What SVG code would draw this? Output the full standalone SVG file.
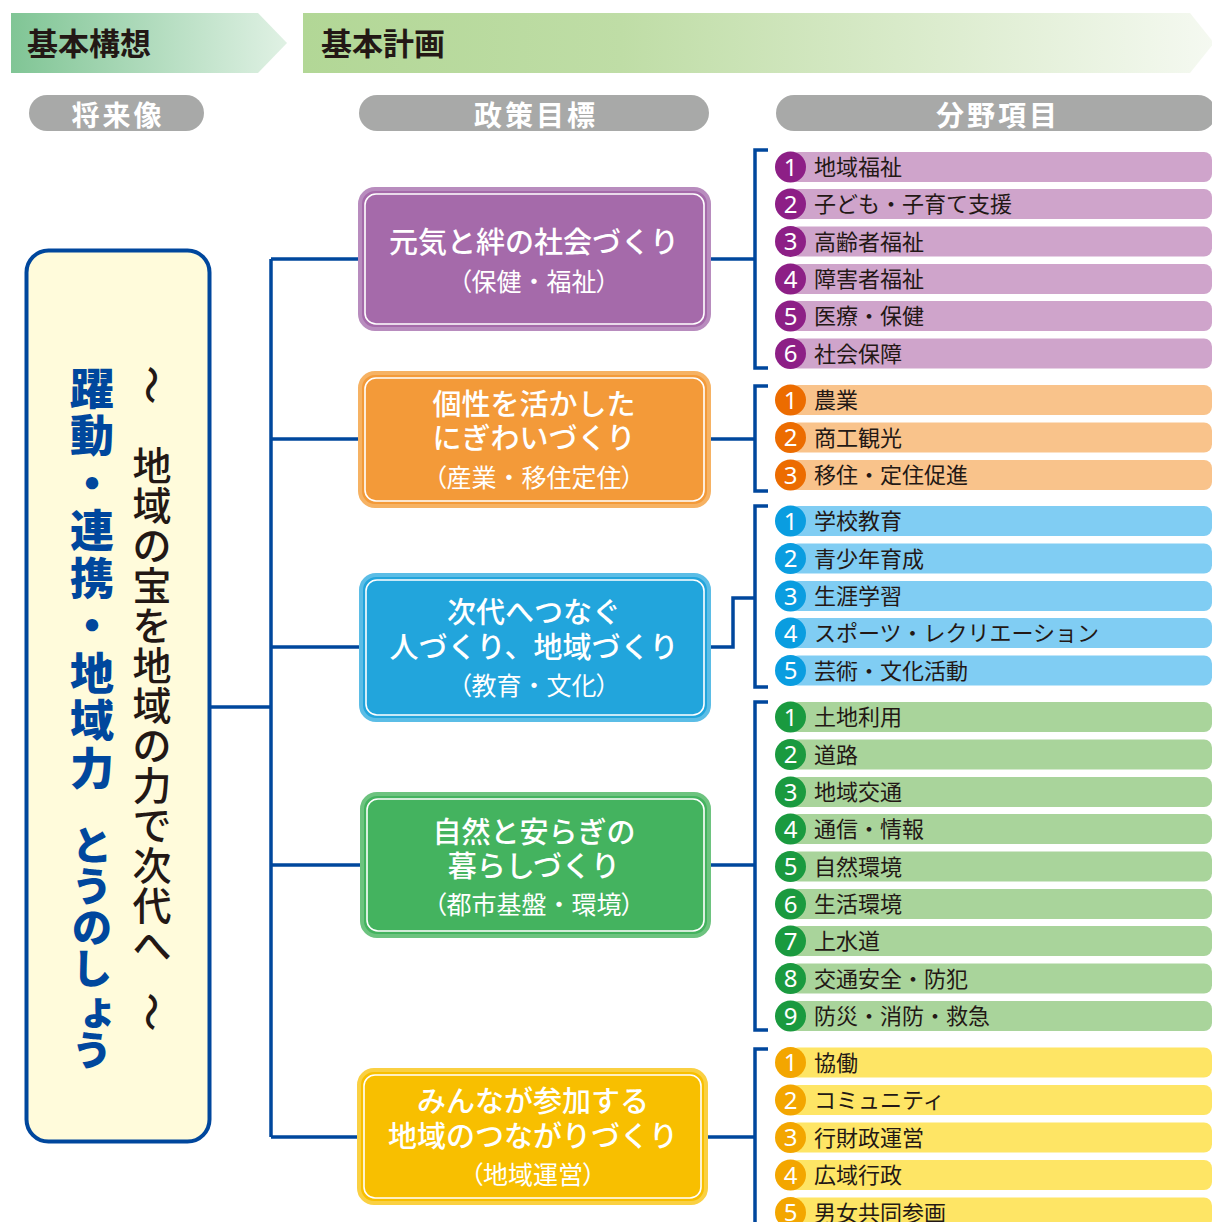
<svg xmlns="http://www.w3.org/2000/svg" width="1212" height="1222" viewBox="0 0 1212 1222">
<defs>
<linearGradient id="g1" x1="0" y1="0" x2="1" y2="0">
<stop offset="0" stop-color="#80c595"/>
<stop offset="1" stop-color="#e0f1e4"/>
</linearGradient>
<linearGradient id="g2" x1="0" y1="0" x2="1" y2="0">
<stop offset="0" stop-color="#b2d796"/>
<stop offset="0.35" stop-color="#bfdda6"/>
<stop offset="1" stop-color="#f5f9f1"/>
</linearGradient>
<style>
.hd{font-family:"Noto Sans CJK JP","Noto Sans",sans-serif;font-weight:700;font-size:31px;fill:#231815}
.pill{fill:#a8a9a8}
.pt{font-family:"Noto Sans CJK JP","Noto Sans",sans-serif;font-weight:700;font-size:28px;fill:#fff;letter-spacing:3px;text-anchor:middle}
.con{fill:none;stroke:#00479d;stroke-width:3.5}
.inner{fill:none;stroke:#fff;stroke-width:1.6}
.tt{font-family:"Noto Sans CJK JP","Noto Sans",sans-serif;font-weight:500;font-size:29px;fill:#fff;text-anchor:middle}
.st{font-family:"Noto Sans CJK JP","Noto Sans",sans-serif;font-size:25px;fill:#fff;text-anchor:middle}
.pa{font-feature-settings:"palt"}
.it{font-family:"Noto Sans CJK JP","Noto Sans",sans-serif;font-size:22px;fill:#231815}
.num{font-family:"Noto Sans","Open Sans",sans-serif;font-size:24px;fill:#fff;text-anchor:middle}
.vb{font-family:"Noto Sans CJK JP","Noto Sans",sans-serif;font-weight:900;font-size:44px;fill:#00479d;text-anchor:middle}
.vbk{font-family:"Noto Sans CJK JP","Noto Sans",sans-serif;font-weight:900;font-size:40px;fill:#00479d;text-anchor:middle}
.vk{font-family:"Noto Sans CJK JP","Noto Sans",sans-serif;font-weight:500;font-size:39px;fill:#231815;text-anchor:middle}
.pb{fill:#cfa4cb}.pc{fill:#8d1f86}
.ob{fill:#f9c38b}.oc{fill:#ec6c00}
.bb{fill:#80cdf3}.bc{fill:#0a9de0}
.gb{fill:#a9d49b}.gc{fill:#1a9a3f}
.yb{fill:#fee565}.yc{fill:#f3a600}
</style>
</defs>
<rect width="1212" height="1222" fill="#fff"/>

<g id="header-kihonkoso">
<polygon points="11,13 258,13 287,43 258,73 11,73" fill="url(#g1)"/>
<text class="hd" x="27" y="55">基本構想</text>
</g>
<g id="header-kihonkeikaku">
<polygon points="303,13 1190,13 1214,43 1190,73 303,73" fill="url(#g2)"/>
<text class="hd" x="321" y="55">基本計画</text>
</g>

<g id="label-shoraizo">
<rect class="pill" x="29" y="95" width="175" height="36" rx="18"/>
<text class="pt" x="118" y="126">将来像</text>
</g>
<g id="label-seisakumokuhyo">
<rect class="pill" x="359" y="95" width="350" height="36" rx="18"/>
<text class="pt" x="536" y="126">政策目標</text>
</g>
<g id="label-bunyakomoku">
<rect class="pill" x="776" y="95" width="440" height="36" rx="18"/>
<text class="pt" x="998" y="126">分野項目</text>
</g>

<g id="connectors">
<path class="con" d="M211,707 H271"/>
<path class="con" d="M271,259 V1137"/>
<path class="con" d="M271,259 H358"/>
<path class="con" d="M271,439 H358"/>
<path class="con" d="M271,647 H359"/>
<path class="con" d="M271,865 H360"/>
<path class="con" d="M271,1137 H357"/>
<path class="con" d="M710,259 H755"/>
<path class="con" d="M710,439 H755"/>
<path class="con" d="M711,647 H733 V598 H755"/>
<path class="con" d="M711,865 H755"/>
<path class="con" d="M708,1137 H755"/>
<path class="con" d="M768,150 H755 V368 H768"/>
<path class="con" d="M768,386 H755 V491 H768"/>
<path class="con" d="M768,506 H755 V687 H768"/>
<path class="con" d="M768,702 H755 V1030 H768"/>
<path class="con" d="M768,1049 H755 V1230"/>
</g>

<g id="vision">
<rect x="26.5" y="250.5" width="183" height="891" rx="22" fill="#fffbdb" stroke="#00479d" stroke-width="4"/>
<text class="vb"><tspan x="92" y="405">躍</tspan><tspan x="92" y="452">動</tspan><tspan x="92" y="500">・</tspan><tspan x="92" y="547">連</tspan><tspan x="92" y="595">携</tspan><tspan x="92" y="642">・</tspan><tspan x="92" y="690">地</tspan><tspan x="92" y="737">域</tspan><tspan x="92" y="785">力</tspan></text>
<text class="vbk"><tspan x="92" y="860">と</tspan><tspan x="92" y="901">う</tspan><tspan x="92" y="942">の</tspan><tspan x="92" y="983">し</tspan><tspan x="98" y="1024">ょ</tspan><tspan x="92" y="1065">う</tspan></text>
<text class="vk" transform="translate(152,385) rotate(90)" y="15">～</text>
<text class="vk"><tspan x="152" y="480">地</tspan><tspan x="152" y="520">域</tspan><tspan x="152" y="560">の</tspan><tspan x="152" y="600">宝</tspan><tspan x="152" y="640">を</tspan><tspan x="152" y="680">地</tspan><tspan x="152" y="720">域</tspan><tspan x="152" y="760">の</tspan><tspan x="152" y="800">力</tspan><tspan x="152" y="840">で</tspan><tspan x="152" y="880">次</tspan><tspan x="152" y="920">代</tspan><tspan x="152" y="960">へ</tspan></text>
<text class="vk" transform="translate(152,1012) rotate(90)" y="15">～</text>
</g>

<g id="policy-1">
<rect x="360" y="189" width="349" height="140" rx="15" fill="#a56aaa" stroke="#b88cbe" stroke-width="4"/>
<rect class="inner" x="365" y="194" width="339" height="130" rx="11"/>
<text class="tt" x="534" y="253">元気と絆の社会づくり</text>
<text class="st" x="534" y="291"><tspan class="pa">（</tspan>保健・福祉<tspan class="pa">）</tspan></text>
</g>
<g id="policy-2">
<rect x="360" y="373" width="349" height="133" rx="15" fill="#f39a39" stroke="#f6b263" stroke-width="4"/>
<rect class="inner" x="365" y="378" width="339" height="123" rx="11"/>
<text class="tt" x="534" y="415">個性を活かした</text>
<text class="tt" x="534" y="449">にぎわいづくり</text>
<text class="st" x="534" y="487"><tspan class="pa">（</tspan>産業・移住定住<tspan class="pa">）</tspan></text>
</g>
<g id="policy-3">
<rect x="361" y="575" width="348" height="145" rx="15" fill="#22a5dc" stroke="#5bbde6" stroke-width="4"/>
<rect class="inner" x="366" y="580" width="338" height="135" rx="11"/>
<text class="tt" x="534" y="623">次代へつなぐ</text>
<text class="tt" x="534" y="658">人づくり、地域づくり</text>
<text class="st" x="534" y="695"><tspan class="pa">（</tspan>教育・文化<tspan class="pa">）</tspan></text>
</g>
<g id="policy-4">
<rect x="362" y="794" width="347" height="142" rx="15" fill="#44b35f" stroke="#6dc37f" stroke-width="4"/>
<rect class="inner" x="367" y="799" width="337" height="132" rx="11"/>
<text class="tt" x="534" y="843">自然と安らぎの</text>
<text class="tt" x="534" y="877">暮らしづくり</text>
<text class="st" x="534" y="914"><tspan class="pa">（</tspan>都市基盤・環境<tspan class="pa">）</tspan></text>
</g>
<g id="policy-5">
<rect x="359" y="1070" width="347" height="133" rx="15" fill="#f8bf00" stroke="#fad042" stroke-width="4"/>
<rect class="inner" x="364" y="1075" width="337" height="123" rx="11"/>
<text class="tt" x="533" y="1112">みんなが参加する</text>
<text class="tt" x="533" y="1147">地域のつながりづくり</text>
<text class="st" x="533" y="1184"><tspan class="pa">（</tspan>地域運営<tspan class="pa">）</tspan></text>
</g>

<g id="items-1">
<g id="i1-1"><rect class="pb" x="790" y="152" width="422" height="30" rx="8"/><circle class="pc" cx="790.5" cy="167" r="15.5"/><text class="num" x="790.5" y="175.5">1</text><text class="it" x="814" y="175">地域福祉</text></g>
<g id="i1-2"><rect class="pb" x="790" y="189" width="422" height="30" rx="8"/><circle class="pc" cx="790.5" cy="204" r="15.5"/><text class="num" x="790.5" y="212.5">2</text><text class="it" x="814" y="212">子ども・子育て支援</text></g>
<g id="i1-3"><rect class="pb" x="790" y="226.5" width="422" height="30" rx="8"/><circle class="pc" cx="790.5" cy="241.5" r="15.5"/><text class="num" x="790.5" y="250">3</text><text class="it" x="814" y="249.5">高齢者福祉</text></g>
<g id="i1-4"><rect class="pb" x="790" y="264" width="422" height="30" rx="8"/><circle class="pc" cx="790.5" cy="279" r="15.5"/><text class="num" x="790.5" y="287.5">4</text><text class="it" x="814" y="287">障害者福祉</text></g>
<g id="i1-5"><rect class="pb" x="790" y="301" width="422" height="30" rx="8"/><circle class="pc" cx="790.5" cy="316" r="15.5"/><text class="num" x="790.5" y="324.5">5</text><text class="it" x="814" y="324">医療・保健</text></g>
<g id="i1-6"><rect class="pb" x="790" y="338.5" width="422" height="30" rx="8"/><circle class="pc" cx="790.5" cy="353.5" r="15.5"/><text class="num" x="790.5" y="362">6</text><text class="it" x="814" y="361.5">社会保障</text></g>
</g>

<g id="items-2">
<g id="i2-1"><rect class="ob" x="790" y="385" width="422" height="30" rx="8"/><circle class="oc" cx="790.5" cy="400" r="15.5"/><text class="num" x="790.5" y="408.5">1</text><text class="it" x="814" y="408">農業</text></g>
<g id="i2-2"><rect class="ob" x="790" y="422.5" width="422" height="30" rx="8"/><circle class="oc" cx="790.5" cy="437.5" r="15.5"/><text class="num" x="790.5" y="446">2</text><text class="it" x="814" y="445.5">商工観光</text></g>
<g id="i2-3"><rect class="ob" x="790" y="460" width="422" height="30" rx="8"/><circle class="oc" cx="790.5" cy="475" r="15.5"/><text class="num" x="790.5" y="483.5">3</text><text class="it" x="814" y="483">移住・定住促進</text></g>
</g>

<g id="items-3">
<g id="i3-1"><rect class="bb" x="790" y="506" width="422" height="30" rx="8"/><circle class="bc" cx="790.5" cy="521" r="15.5"/><text class="num" x="790.5" y="529.5">1</text><text class="it" x="814" y="529">学校教育</text></g>
<g id="i3-2"><rect class="bb" x="790" y="543.5" width="422" height="30" rx="8"/><circle class="bc" cx="790.5" cy="558.5" r="15.5"/><text class="num" x="790.5" y="567">2</text><text class="it" x="814" y="566.5">青少年育成</text></g>
<g id="i3-3"><rect class="bb" x="790" y="581" width="422" height="30" rx="8"/><circle class="bc" cx="790.5" cy="596" r="15.5"/><text class="num" x="790.5" y="604.5">3</text><text class="it" x="814" y="604">生涯学習</text></g>
<g id="i3-4"><rect class="bb" x="790" y="618" width="422" height="30" rx="8"/><circle class="bc" cx="790.5" cy="633" r="15.5"/><text class="num" x="790.5" y="641.5">4</text><text class="it" x="814" y="641">スポーツ・レクリエーション</text></g>
<g id="i3-5"><rect class="bb" x="790" y="655.5" width="422" height="30" rx="8"/><circle class="bc" cx="790.5" cy="670.5" r="15.5"/><text class="num" x="790.5" y="679">5</text><text class="it" x="814" y="678.5">芸術・文化活動</text></g>
</g>

<g id="items-4">
<g id="i4-1"><rect class="gb" x="790" y="702" width="422" height="30" rx="8"/><circle class="gc" cx="790.5" cy="717" r="15.5"/><text class="num" x="790.5" y="725.5">1</text><text class="it" x="814" y="725">土地利用</text></g>
<g id="i4-2"><rect class="gb" x="790" y="739.5" width="422" height="30" rx="8"/><circle class="gc" cx="790.5" cy="754.5" r="15.5"/><text class="num" x="790.5" y="763">2</text><text class="it" x="814" y="762.5">道路</text></g>
<g id="i4-3"><rect class="gb" x="790" y="777" width="422" height="30" rx="8"/><circle class="gc" cx="790.5" cy="792" r="15.5"/><text class="num" x="790.5" y="800.5">3</text><text class="it" x="814" y="800">地域交通</text></g>
<g id="i4-4"><rect class="gb" x="790" y="814" width="422" height="30" rx="8"/><circle class="gc" cx="790.5" cy="829" r="15.5"/><text class="num" x="790.5" y="837.5">4</text><text class="it" x="814" y="837">通信・情報</text></g>
<g id="i4-5"><rect class="gb" x="790" y="851.5" width="422" height="30" rx="8"/><circle class="gc" cx="790.5" cy="866.5" r="15.5"/><text class="num" x="790.5" y="875">5</text><text class="it" x="814" y="874.5">自然環境</text></g>
<g id="i4-6"><rect class="gb" x="790" y="889" width="422" height="30" rx="8"/><circle class="gc" cx="790.5" cy="904" r="15.5"/><text class="num" x="790.5" y="912.5">6</text><text class="it" x="814" y="912">生活環境</text></g>
<g id="i4-7"><rect class="gb" x="790" y="926" width="422" height="30" rx="8"/><circle class="gc" cx="790.5" cy="941" r="15.5"/><text class="num" x="790.5" y="949.5">7</text><text class="it" x="814" y="949">上水道</text></g>
<g id="i4-8"><rect class="gb" x="790" y="963.5" width="422" height="30" rx="8"/><circle class="gc" cx="790.5" cy="978.5" r="15.5"/><text class="num" x="790.5" y="987">8</text><text class="it" x="814" y="986.5">交通安全・防犯</text></g>
<g id="i4-9"><rect class="gb" x="790" y="1001" width="422" height="30" rx="8"/><circle class="gc" cx="790.5" cy="1016" r="15.5"/><text class="num" x="790.5" y="1024.5">9</text><text class="it" x="814" y="1024">防災・消防・救急</text></g>
</g>

<g id="items-5">
<g id="i5-1"><rect class="yb" x="790" y="1047.5" width="422" height="30" rx="8"/><circle class="yc" cx="790.5" cy="1062.5" r="15.5"/><text class="num" x="790.5" y="1071">1</text><text class="it" x="814" y="1070.5">協働</text></g>
<g id="i5-2"><rect class="yb" x="790" y="1085" width="422" height="30" rx="8"/><circle class="yc" cx="790.5" cy="1100" r="15.5"/><text class="num" x="790.5" y="1108.5">2</text><text class="it" x="814" y="1108">コミュニティ</text></g>
<g id="i5-3"><rect class="yb" x="790" y="1122.5" width="422" height="30" rx="8"/><circle class="yc" cx="790.5" cy="1137.5" r="15.5"/><text class="num" x="790.5" y="1146">3</text><text class="it" x="814" y="1145.5">行財政運営</text></g>
<g id="i5-4"><rect class="yb" x="790" y="1160" width="422" height="30" rx="8"/><circle class="yc" cx="790.5" cy="1175" r="15.5"/><text class="num" x="790.5" y="1183.5">4</text><text class="it" x="814" y="1183">広域行政</text></g>
<g id="i5-5"><rect class="yb" x="790" y="1197.5" width="422" height="30" rx="8"/><circle class="yc" cx="790.5" cy="1212.5" r="15.5"/><text class="num" x="790.5" y="1221">5</text><text class="it" x="814" y="1220.5">男女共同参画</text></g>
</g>
</svg>
